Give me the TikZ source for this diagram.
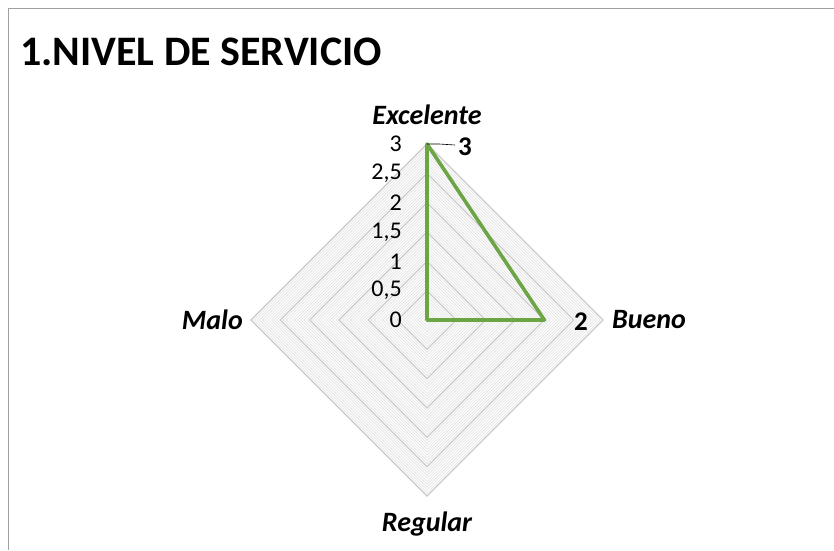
\documentclass[tikz,border=0pt]{standalone}
\usepackage{fontspec}
\setmainfont{Carlito}
\usetikzlibrary{positioning,calc}
\definecolor{serieGreen}{RGB}{108,165,68}
\definecolor{frameGray}{RGB}{160,160,160}

\begin{document}
\begin{tikzpicture}[
    x=1pt, y=1pt,
    every node/.style={inner sep=0pt},
    minorgrid/.style={draw=black!10, line width=0.8pt},
    majorgrid/.style={draw=black!20, line width=1.2pt},
    series/.style={draw=serieGreen, line width=3.6pt, line join=round},
    leader/.style={draw=black, line width=0.6pt},
    ticklabel/.style={font=\fontsize{24}{26}\selectfont, anchor=east},
    catlabel/.style={font=\fontsize{28}{30}\selectfont\bfseries\itshape},
    datalabel/.style={font=\fontsize{27}{29}\selectfont\bfseries}
]
\useasboundingbox (0,0) rectangle (834,550);

% Chart frame
\draw[frameGray, line width=1pt] (834,541) -- (8.5,541) -- (8.5,0);

% Title
\node[anchor=base west, font=\fontsize{42}{44}\selectfont\bfseries] (title) at (20,484) {1.NIVEL DE SERVICIO};

% Radar grid
\coordinate (c) at (427,230);
\begin{scope}[shift={(c)}]
\foreach \i in {1,...,60} {
    \pgfmathsetmacro{\r}{\i*2.93333}
    \draw[minorgrid] (\r,0) -- (0,\r) -- (-\r,0) -- (0,-\r) -- cycle;
}
\foreach \i in {1,...,6} {
    \pgfmathsetmacro{\r}{\i*29.3333}
    \draw[majorgrid] (\r,0) -- (0,\r) -- (-\r,0) -- (0,-\r) -- cycle;
}

% Value axis labels
\foreach \v/\t [count=\k from 0] in {0/0, 0.5/{0,5}, 1/1, 1.5/{1,5}, 2/2, 2.5/{2,5}, 3/3} {
    \node[ticklabel] (tick\k) at (-25, \v*58.6667) {\t};
}

% Data points
\coordinate (exc) at (0,176);
\coordinate (bue) at (117.33,0);
\coordinate (reg) at (0,0);
\coordinate (mal) at (0,0);
\end{scope}

% Series
\draw[series] (exc) -- (bue) -- (reg) -- (mal) -- cycle;

% Category labels
\node[catlabel, anchor=base] (excelente) at (427,425) {Excelente};
\node[catlabel, anchor=west] (bueno) at (612,230) {Bueno};
\node[catlabel, anchor=south] (regular) at (427,14) {Regular};
\node[catlabel, anchor=east] (malo) at (243,230) {Malo};

% Data labels
\node[datalabel, anchor=west] (val3) at (458,403) {3};
\node[datalabel] (val2) at (581,228) {2};
\draw[leader] (exc) -- ++(12,0) -- ($(val3.west)+(-3,2)$);

\end{tikzpicture}
\end{document}
